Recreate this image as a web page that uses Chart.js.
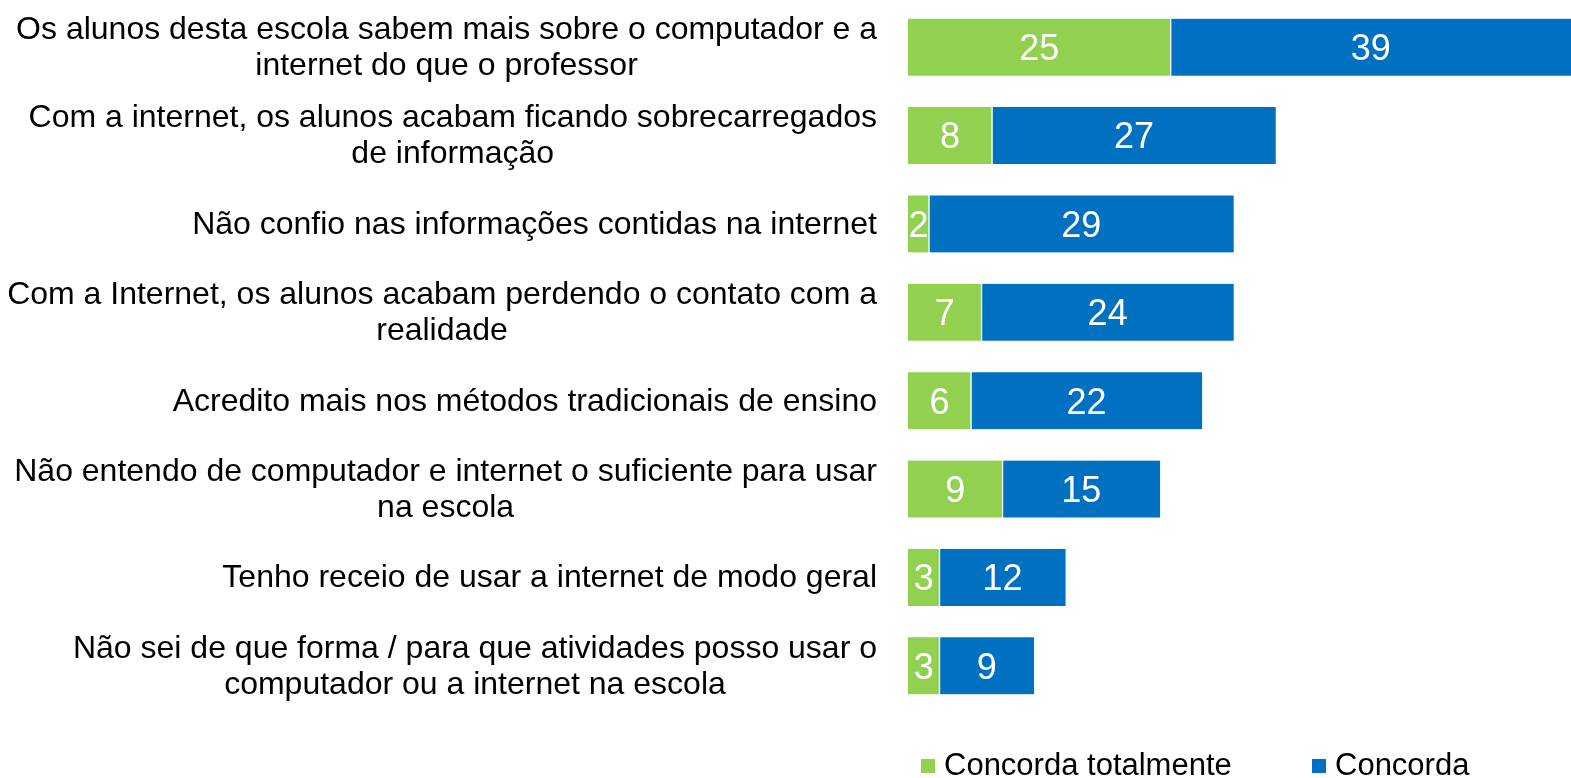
<!DOCTYPE html>
<html>
<head>
<meta charset="utf-8">
<script src="https://cdn.jsdelivr.net/npm/chart.js@4/dist/chart.umd.min.js"></script>
<style>
  html, body { margin: 0; padding: 0; background: #fff; }
  #wrap { width: 1571px; height: 778px; }
</style>
</head>
<body>
<div id="wrap"><canvas id="chart"></canvas></div>
<script>
const CATEGORIES = [
  ['Os alunos desta escola sabem mais sobre o computador e a', 'internet do que o professor'],
  ['Com a internet, os alunos acabam ficando sobrecarregados', 'de informação'],
  ['Não confio nas informações contidas na internet'],
  ['Com a Internet, os alunos acabam perdendo o contato com a', 'realidade'],
  ['Acredito mais nos métodos tradicionais de ensino'],
  ['Não entendo de computador e internet o suficiente para usar', 'na escola'],
  ['Tenho receio de usar a internet de modo geral'],
  ['Não sei de que forma / para que atividades posso usar o', 'computador ou a internet na escola'],
];
const TOTALMENTE = [25, 8, 2, 7, 6, 9, 3, 3];
const CONCORDA = [39, 27, 29, 24, 22, 15, 12, 9];
const SERIES_NAMES = ['Concorda totalmente', 'Concorda'];

const GREEN = '#92d050';
const BLUE = '#0070c0';
const FONT = '"Liberation Sans", Arial, sans-serif';
const LABEL_RIGHT = 877;

// category labels: block right aligned, lines centred within the block
const catLabels = {
  id: 'catLabels',
  afterDraw(chart) {
    const { ctx } = chart;
    const y = chart.scales.y;
    ctx.save();
    ctx.font = `32px ${FONT}`;
    ctx.fillStyle = '#000';
    ctx.textBaseline = 'middle';
    ctx.textAlign = 'center';
    const lh = 36;
    chart.data.labels.forEach((lines, i) => {
      const cy = y.getPixelForValue(i) + 1;
      const w = Math.max(...lines.map((l) => ctx.measureText(l).width));
      const cx = LABEL_RIGHT - w / 2;
      const top = cy - ((lines.length - 1) * lh) / 2;
      lines.forEach((l, j) => ctx.fillText(l, cx, top + j * lh));
    });
    ctx.restore();
  },
};

const valueLabels = {
  id: 'valueLabels',
  afterDatasetsDraw(chart) {
    const { ctx } = chart;
    ctx.save();
    ctx.font = `36px ${FONT}`;
    ctx.fillStyle = '#fff';
    ctx.textAlign = 'center';
    ctx.textBaseline = 'middle';
    chart.data.datasets.forEach((ds, di) => {
      chart.getDatasetMeta(di).data.forEach((bar, i) => {
        const right = Math.min(bar.x, chart.chartArea.right);
        ctx.fillText(String(ds.data[i]), (bar.base + right) / 2, bar.y + 3);
      });
    });
    ctx.restore();
  },
};

const legendPlugin = {
  id: 'customLegend',
  afterDraw(chart) {
    const { ctx } = chart;
    const items = [
      { x: 921, color: GREEN },
      { x: 1312, color: BLUE },
    ];
    ctx.save();
    ctx.font = `31px ${FONT}`;
    ctx.textBaseline = 'middle';
    ctx.textAlign = 'left';
    items.forEach((it, i) => {
      ctx.fillStyle = it.color;
      ctx.fillRect(it.x, 759, 14, 14);
      ctx.fillStyle = '#000';
      ctx.fillText(SERIES_NAMES[i], it.x + 23, 766);
    });
    ctx.restore();
  },
};

new Chart(document.getElementById('chart'), {
  type: 'bar',
  data: {
    labels: CATEGORIES,
    datasets: [
      { label: SERIES_NAMES[0], data: TOTALMENTE, backgroundColor: GREEN, borderColor: '#ffffff', borderWidth: { right: 1 }, borderSkipped: false },
      { label: SERIES_NAMES[1], data: CONCORDA, backgroundColor: BLUE, borderColor: '#ffffff', borderWidth: { left: 1 }, borderSkipped: false },
    ],
  },
  options: {
    indexAxis: 'y',
    responsive: true,
    maintainAspectRatio: false,
    animation: false,
    layout: { padding: { left: 908, right: 0, top: 3, bottom: 68 } },
    barThickness: 57,
    plugins: {
      legend: { display: false },
      tooltip: { enabled: false },
    },
    scales: {
      x: { stacked: true, display: false, min: 0, max: 63.1 },
      y: { stacked: true, display: false },
    },
  },
  plugins: [catLabels, valueLabels, legendPlugin],
});
</script>
</body>
</html>
